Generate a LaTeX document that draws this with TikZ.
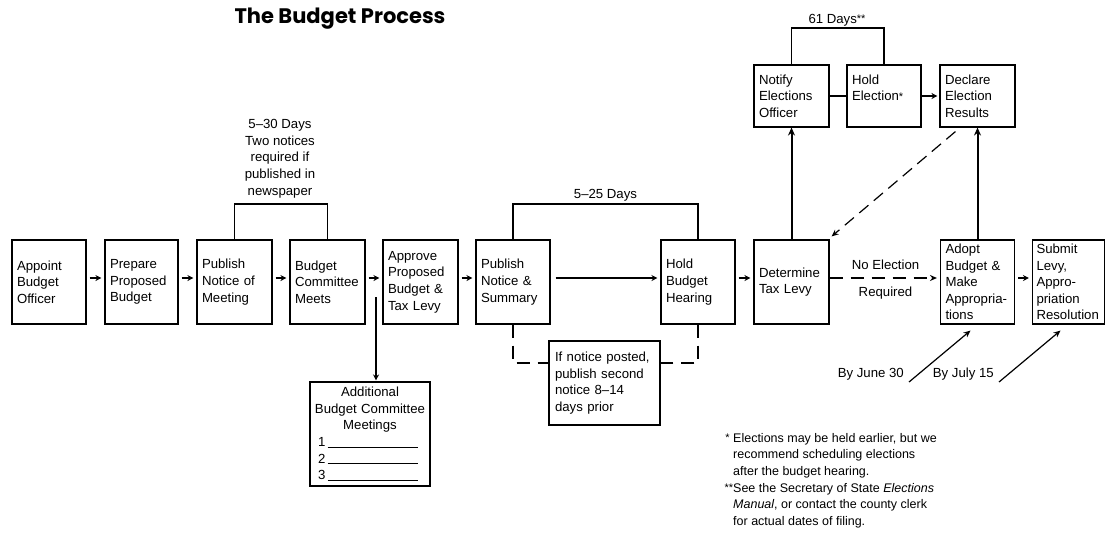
\documentclass[tikz,border=0pt]{standalone}
\usepackage{fontspec}
\setmainfont{Liberation Sans}
\newfontfamily\titlefont{Poppins}
\usetikzlibrary{arrows.meta}
\newcommand\fnstar{\raisebox{0.5pt}{\fontsize{11}{11}\selectfont *}}
\begin{document}
\begin{tikzpicture}[x=1pt,y=-1pt,
  every node/.style={font=\fontsize{13.2}{16.6}\selectfont},
  box/.style={draw, line width=1.1pt, inner xsep=5pt, inner ysep=0pt, align=left, minimum height=84},
  tbox/.style={box, minimum height=62},
  lbl/.style={inner sep=0pt, align=center},
  sarr/.style={line width=1.2pt, -{Stealth[length=6pt,width=6pt]}, shorten <=3pt, shorten >=3pt},
  varr/.style={line width=2pt, -{Stealth[length=8pt,width=7pt]}},
  dln/.style={line width=1.2pt, dash pattern=on 13pt off 8pt},
  bracket/.style={line width=1.1pt},
  darr/.style={line width=1.2pt, -{Stealth[length=7pt,width=6pt]}}
]
\useasboundingbox (0,0) rectangle (1105,544);
\fill[white] (0,0) rectangle (1105,544);

\node[font=\titlefont\bfseries\fontsize{21}{21}\selectfont, inner sep=0pt] (title) at (340,19) {The Budget Process};

% main row
\node[box, text width=64] (b1) at (49,282) {Appoint\\Budget\\Officer};
\node[box, text width=63] (b2) at (141.5,282) {Prepare\\Proposed\\Budget};
\node[box, text width=65] (b3) at (234.5,282) {Publish\\Notice of\\Meeting};
\node[box, text width=65] (b4) at (327.5,282) {Budget\\Committee\\Meets};
\node[box, text width=65] (b5) at (420.5,282) {Approve\\Proposed\\Budget \&\\Tax Levy};
\node[box, text width=64] (b6) at (513,282) {Publish\\Notice \&\\Summary};
\node[box, text width=64] (b7) at (698,282) {Hold\\Budget\\Hearing};
\node[box, text width=65] (b8) at (791.5,282) {Determine\\Tax Levy};
\node[box, text width=64] (b9) at (977.5,282) {Adopt\\Budget \&\\Make\\Appropria-\\tions};
\node[box, text width=64, inner xsep=4pt] (b10) at (1068.5,282) {Submit\\Levy,\\Appro-\\priation\\Resolution};

% top row
\node[tbox, text width=65] (t1) at (791.5,96) {Notify\\Elections\\Officer};
\node[tbox, text width=64] (t2) at (884,96) {Hold\\Election\fnstar\\\mbox{}};
\node[tbox, text width=65] (t3) at (977.5,96) {Declare\\Election\\Results};

% side boxes
\node[box, text width=114, inner xsep=3pt, minimum height=104] (add) at (370,434)
  {{\centering Additional\\Budget Committee\\Meetings\par}%
   \hspace*{5pt}1\,\rule[-1pt]{90pt}{0.9pt}\\\hspace*{5pt}2\,\rule[-1pt]{90pt}{0.9pt}\\\hspace*{5pt}3\,\rule[-1pt]{90pt}{0.9pt}};
\node[box, text width=99, inner xsep=6pt, minimum height=84] (note) at (604.5,383)
  {If notice posted,\\publish second\\notice 8--14\\days prior};

% row arrows
\foreach \a/\b in {b1/b2,b2/b3,b3/b4,b4/b5,b5/b6,b7/b8,b9/b10}
  \draw[sarr] ([yshift=4pt]\a.east) -- ([yshift=4pt]\b.west);
\draw[sarr, shorten <=5pt] ([yshift=4pt]b6.east) -- ([yshift=4pt]b7.west);

% election branch
\draw[varr] (b8) -- (t1);
\draw[varr] (b9) -- (t3);
\draw[bracket] (t1) -- (t2);
\draw[sarr, shorten <=0pt, shorten >=2pt] (t2) -- (t3);
\draw[dln, dash pattern=on 12pt off 7pt, darr] ([xshift=16pt,yshift=-4pt]t3.south west) -- ([xshift=2pt,yshift=3pt]b8.north east);
\draw[dln, darr, shorten >=3pt] ([yshift=4pt]b8.east) -- ([yshift=4pt]b9.west);
\node[lbl] (ne) at (885.5,265) {No Election};
\node[lbl] (nr) at (885.5,293) {Required};

% brackets
\coordinate (k1) at (280,204);
\draw[bracket] (b3.north) |- (k1) -| (b4.north);
\node[lbl, anchor=south] (l530) at (280,198) {5--30 Days\\Two notices\\required if\\published in\\newspaper};
\coordinate (k2) at (605,204);
\draw[bracket] (b6.north) |- (k2) -| (b7.north);
\node[lbl, anchor=base] (l525) at (605.5,198) {5--25 Days};
\coordinate (k3) at (837,28);
\draw[bracket] (t1.north) |- (k3) -| (t2.north);
\node[lbl, anchor=base] (l61) at (837,23) {61 Days\fnstar\fnstar};

% additional meetings
\coordinate (sp) at (376,297);
\draw[sarr, shorten <=0pt, shorten >=1pt] (sp) -- (sp |- add.north);

% note connectors
\draw[dln] (b6.south) |- ([yshift=20pt]note.west);
\draw[dln] (b7.south) |- ([yshift=20pt]note.east);

% deadlines
\node[lbl, anchor=east] (dj) at (904,374) {By June 30};
\node[lbl, anchor=east] (dl) at (994,374) {By July 15};
\draw[darr] ([xshift=5pt,yshift=-8pt]dj.east) -- ([xshift=-7pt,yshift=-6pt]b9.south);
\draw[darr] ([xshift=5pt,yshift=-8pt]dl.east) -- ([xshift=-8pt,yshift=-6pt]b10.south);

% footnotes
\node[anchor=north west, inner sep=0pt, align=left, font=\fontsize{12.5}{16.6}\selectfont] (fn) at (733,433)
  {\llap{\fnstar\ }Elections may be held earlier, but we\\recommend scheduling elections\\after the budget hearing.\\\llap{\fnstar\fnstar}See the Secretary of State \textit{Elections}\\\textit{Manual}, or contact the county clerk\\for actual dates of filing.};
\end{tikzpicture}
\end{document}
